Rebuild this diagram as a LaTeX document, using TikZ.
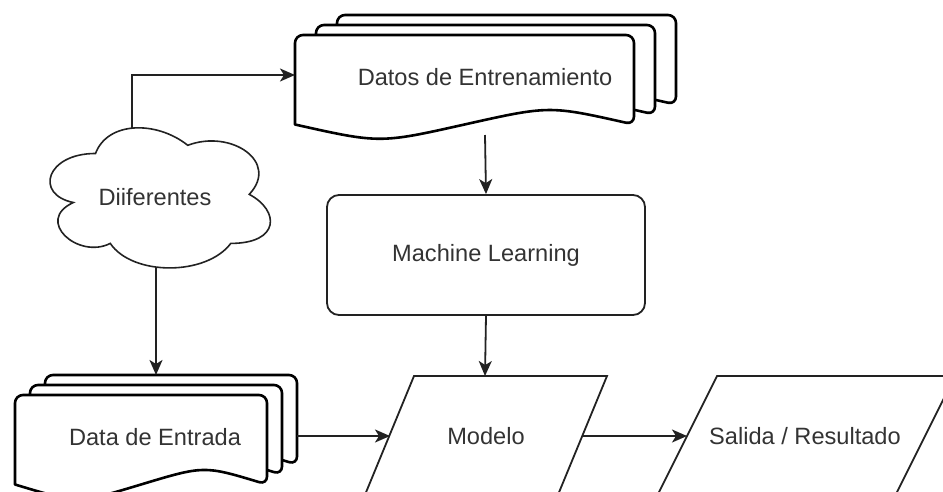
\documentclass[tikz,border=0pt]{standalone}
\usepackage{fontspec}
\setmainfont{Liberation Sans}
\usetikzlibrary{arrows.meta}
\definecolor{ink}{HTML}{222222}
\definecolor{txt}{HTML}{333333}

% document sheet: left x, top y, width
\newcommand\docsheet[3]{%
  \draw[docline, fill=white, rounded corners=8pt]
    (#1,#2+89.5) -- (#1,#2) -- (#1+#3,#2) -- (#1+#3,#2+89.5) [sharp corners]
    .. controls (#1+0.75*#3,#2+70.5) .. (#1+0.5*#3,#2+89.5)
    .. controls (#1+0.25*#3,#2+108.5) .. (#1,#2+89.5) -- cycle;}

\begin{document}
\begin{tikzpicture}[x=1pt, y=-1pt,
  docline/.style={line width=2.6pt, draw=black, line join=round},
  shapeline/.style={line width=1.8pt, draw=ink},
  label/.style={font=\fontsize{23.6}{28}\selectfont, text=txt, inner sep=0pt},
  flow/.style={line width=1.8pt, draw=ink, -{Stealth[length=15pt, width=13pt, inset=4pt]}}]

\useasboundingbox (0,0) rectangle (943,491);
\clip (0,0) rectangle (943,491);

% training data: three stacked sheets
\docsheet{337}{15}{339}
\docsheet{316}{25}{339}
\docsheet{295}{35}{339}
\node[label] (datos) at (485,77) {Datos de Entrenamiento};
\coordinate (datosL) at (295,75);
\coordinate (datosB) at (485,135);

% input data: three stacked sheets
\docsheet{45}{375}{252}
\docsheet{30}{385}{252}
\docsheet{15}{395}{252}
\node[label] (entrada) at (155,437) {Data de Entrada};
\coordinate (entradaT) at (156,375);
\coordinate (entradaR) at (297,436);

% cloud of sources
\begin{scope}[shift={(34,112.6)}, x=246pt, y=-163.5pt]
  \draw[line width=1.6pt, draw=ink, fill=white]
    (0.25,0.25) .. controls (0.05,0.25) and (0,0.5) .. (0.16,0.55)
    .. controls (0,0.66) and (0.18,0.9) .. (0.31,0.8)
    .. controls (0.4,1) and (0.7,1) .. (0.8,0.8)
    .. controls (1,0.8) and (1,0.6) .. (0.875,0.5)
    .. controls (1,0.3) and (0.8,0.1) .. (0.625,0.2)
    .. controls (0.5,0.05) and (0.3,0.05) .. (0.25,0.25) -- cycle;
\end{scope}
\node[label] (cloud) at (155,197) {Diiferentes};
\coordinate (cloudT) at (132,128.5);
\coordinate (cloudB) at (156,267);

% learning step
\node[shapeline, rounded corners=12pt, minimum width=318pt, minimum height=120pt,
      label, inner sep=0pt] (ml) at (486,255) {Machine Learning};

% model parallelogram
\draw[shapeline] (414,376) -- (607,376) -- (557.5,496) -- (364.5,496) -- cycle;
\node[label] (modelo) at (486,436) {Modelo};
\coordinate (modeloT) at (485,376);
\coordinate (modeloL) at (390,436);
\coordinate (modeloR) at (583,436);

% output parallelogram
\draw[shapeline] (717,376) -- (955,376) -- (895,496) -- (657,496) -- cycle;
\node[label] (salida) at (805,436) {Salida / Resultado};
\coordinate (salidaL) at (687,436);

% connectors
\draw[flow] (cloudT) |- (datosL);
\draw[flow] (cloudB) -- (entradaT);
\draw[flow] (datosB) -- (ml.north);
\draw[flow] (ml.south) -- (modeloT);
\draw[flow] (entradaR) -- (modeloL);
\draw[flow] (modeloR) -- (salidaL);
\end{tikzpicture}
\end{document}
